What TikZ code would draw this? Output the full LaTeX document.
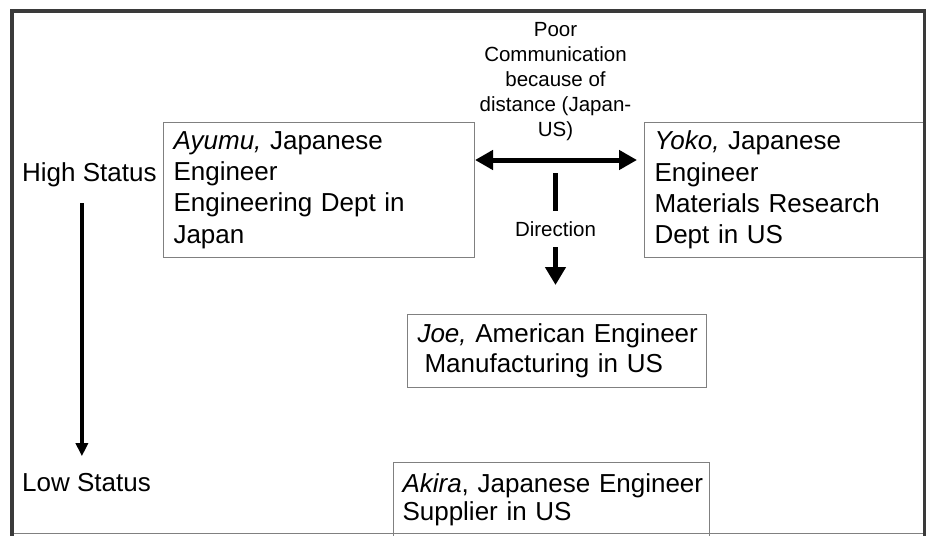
\documentclass[tikz,border=0pt]{standalone}
\usepackage{fontspec}
\setmainfont{Liberation Sans}
\usepackage{tikz}
\usetikzlibrary{arrows.meta,positioning}
\definecolor{cFrame}{HTML}{3A3A3A}
\definecolor{cBox}{HTML}{808080}
\tikzset{
  person/.style ={rectangle, draw=cBox, line width=1pt, fill=white, align=left,
                  inner xsep=10pt, inner ysep=4pt, anchor=north west, lead=30},
  lead/.style   ={font=\fontsize{26}{#1}\selectfont},
  note/.style   ={align=center, font=\fontsize{20.5}{25}\selectfont, inner sep=0pt},
  lvl/.style    ={font=\fontsize{26}{30}\selectfont, inner sep=0pt, anchor=base west},
  fl/.style     ={-{Triangle[length=13pt,width=12pt]}, line width=4pt},
  bigfl/.style  ={{Triangle[length=18pt,width=19pt]}-{Triangle[length=18pt,width=19pt]},
                  line width=5pt},
  dirfl/.style  ={-{Triangle[length=18pt,width=20pt]}, line width=4.5pt},
}
\begin{document}
\begin{tikzpicture}[x=1pt,y=-1pt]
  \useasboundingbox (0,0) rectangle (928,535);
  % people
  \node[person, lead=31.3, text width=291pt, minimum height=135pt] (ayumu) at (163,122)
    {\textit{Ayumu,} Japanese\\Engineer\\Engineering Dept in\\Japan};
  \node[person, lead=31.3, text width=259pt, minimum height=135pt] (yoko) at (644,122)
    {\textit{Yoko,} Japanese\\Engineer\\Materials Research\\Dept in US};
  \node[person, text width=279pt, minimum height=73pt] (joe) at (407,314)
    {\mbox{\textit{Joe,} American Engineer}\\\hspace*{7pt}Manufacturing in US};
  \node[person, lead=28, text width=298pt, minimum height=74pt, inner xsep=9pt] (akira) at (393,462)
    {\mbox{\textit{Akira}, Japanese Engineer}\\Supplier in US};
  % status scale
  \node[lvl] (high) at (22,181) {High Status};
  \node[lvl] (low) at (22,491.5) {Low Status};
  \coordinate (s0) at ([xshift=-7.5pt,yshift=-16.5pt]high.south);
  \draw[fl, shorten >=17pt] (s0) -- (s0 |- low.north);
  % communication between the two engineering depts
  \node[note] (comm) at (555.5,82) {Poor\\Communication\\because of\\distance (Japan-\\US)};
  \coordinate (link) at (555.5,160);
  \draw[bigfl, shorten >=7pt] (ayumu.east |- link) -- (yoko.west |- link);
  \coordinate (dtop) at (555.5,173);
  \coordinate (dend) at (555.5,285);
  \draw[dirfl] (dtop) -- (dend)
    node[note, midway, fill=white, inner ysep=10.5pt, inner xsep=3pt] (dir) {Direction};
  % outer frame
  \draw[cBox, line width=1pt] (12,533.5) -- (924.5,533.5);
  \draw[cFrame, line width=3.8pt] (12,540) -- (12,11) -- (924.5,11) -- (924.5,540);
\end{tikzpicture}
\end{document}
